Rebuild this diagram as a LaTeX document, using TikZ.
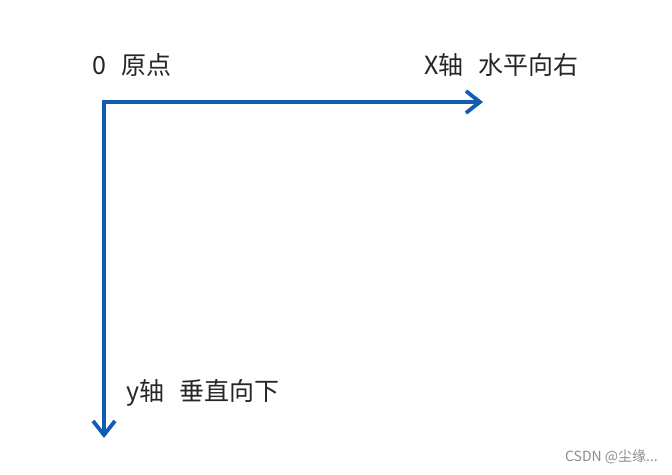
\documentclass[tikz,border=0pt]{standalone}
\usepackage{fontspec}
\setmainfont{Noto Sans CJK SC}
\usetikzlibrary{arrows.meta}
\definecolor{axisblue}{HTML}{105CB0}
\begin{document}
\begin{tikzpicture}[x=1pt,y=-1pt,
  axis/.style={draw=axisblue, line width=3.8pt, line join=miter,
    {Straight Barb[length=14pt,width=22pt]}-{Straight Barb[length=14pt,width=22pt]}},
  lbl/.style={inner sep=0pt, anchor=west, font=\fontsize{25}{29}\selectfont, text=black!85},
  wmark/.style={inner sep=0pt, anchor=east, font=\fontsize{14}{16}\selectfont, text=black!45}]
\useasboundingbox[fill=white] (0,0) rectangle (672,474);
\coordinate (O) at (104,102);
\coordinate (X) at (483,102);
\coordinate (Y) at (104,438);
\draw[axis] (X) -- (O) -- (Y);
\node[lbl] (o) at (92,65) {0\hspace{0.6em}原点};
\node[lbl] (x) at (424,65) {X轴\hspace{0.6em}水平向右};
\node[lbl] (y) at (126,393) {y轴\hspace{0.6em}垂直向下};
\node[wmark] (w) at (658,457) {CSDN @尘缘...};
\end{tikzpicture}
\end{document}
